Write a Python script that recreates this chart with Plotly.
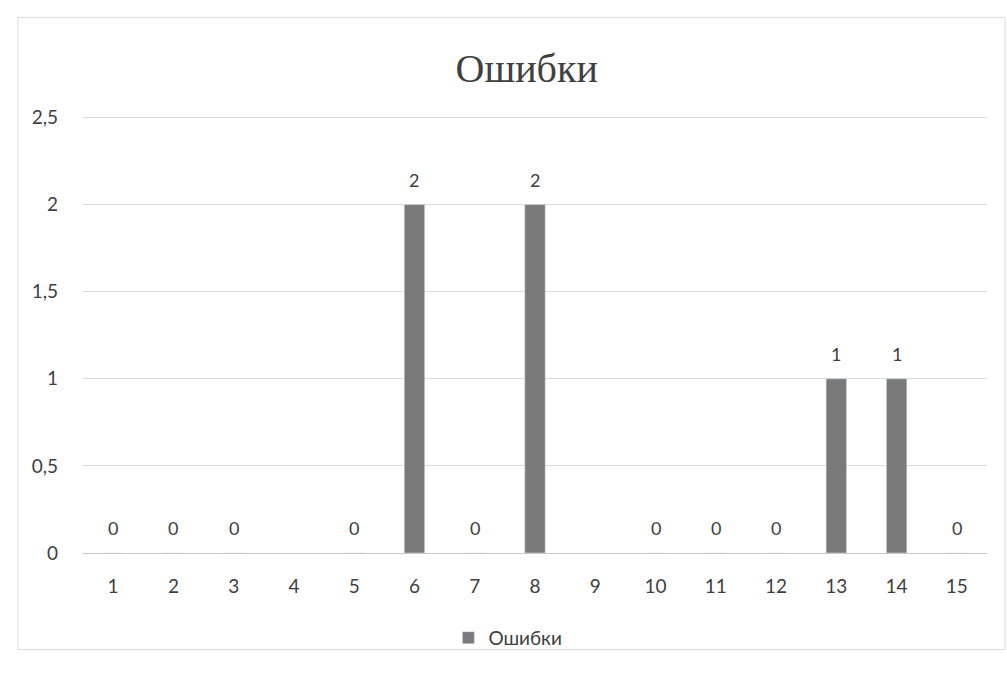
import plotly.graph_objects as go

# Number of errors per task; tasks 4 and 9 have no recorded value
tasks = [str(i) for i in range(1, 16)]
errors = [0, 0, 0, None, 0, 2, 0, 2, None, 0, 0, 0, 1, 1, 0]
y_ticks = [0, 0.5, 1, 1.5, 2, 2.5]
y_tick_labels = ["0", "0,5", "1", "1,5", "2", "2,5"]

FONT = "Lato, Open Sans, Liberation Sans"
TEXT_COLOR = "#404040"

fig = go.Figure(
    go.Bar(
        x=tasks,
        y=errors,
        name="Ошибки",
        marker=dict(color="#7a7a7a"),
    )
)

# Data labels above each bar that has a value (x given as category index)
annotations = [
    dict(
        x=i,
        y=v,
        xref="x",
        yref="y",
        text=str(v),
        showarrow=False,
        yanchor="bottom",
        yshift=12,
        font=dict(family=FONT, size=18, color=TEXT_COLOR),
    )
    for i, v in enumerate(errors)
    if v is not None
]

fig.update_layout(
    width=1007,
    height=681,
    paper_bgcolor="white",
    plot_bgcolor="white",
    margin=dict(l=83, r=20, t=114, b=128),
    bargap=0.66,
    annotations=annotations,
    title=dict(
        text="Ошибки",
        x=0.523,
        xanchor="center",
        y=0.9,
        yanchor="middle",
        font=dict(family="Liberation Serif, DejaVu Serif", size=40, color=TEXT_COLOR),
    ),
    showlegend=True,
    legend=dict(
        orientation="h",
        x=0.47,
        xanchor="center",
        y=-0.15,
        yanchor="top",
        bgcolor="rgba(0,0,0,0)",
        font=dict(family=FONT, size=19, color=TEXT_COLOR),
        itemwidth=30,
    ),
    xaxis=dict(
        type="category",
        range=[-0.5, len(tasks) - 0.5],
        showgrid=False,
        showline=True,
        linecolor="#c8c8c8",
        linewidth=1,
        ticks="",
        ticklabelstandoff=16,
        tickfont=dict(family=FONT, size=19, color=TEXT_COLOR),
    ),
    yaxis=dict(
        range=[0, 2.52],
        tickvals=y_ticks,
        ticktext=y_tick_labels,
        showgrid=True,
        gridcolor="#dadada",
        zeroline=False,
        ticks="",
        ticklabelstandoff=24,
        tickfont=dict(family=FONT, size=19, color=TEXT_COLOR),
    ),
    shapes=[
        dict(
            type="rect",
            xref="paper",
            yref="paper",
            x0=-0.072,
            x1=1.02,
            y0=-0.22,
            y1=1.22,
            line=dict(color="#dcdcdc", width=1),
        )
    ],
)

fig.write_html("out.html")
